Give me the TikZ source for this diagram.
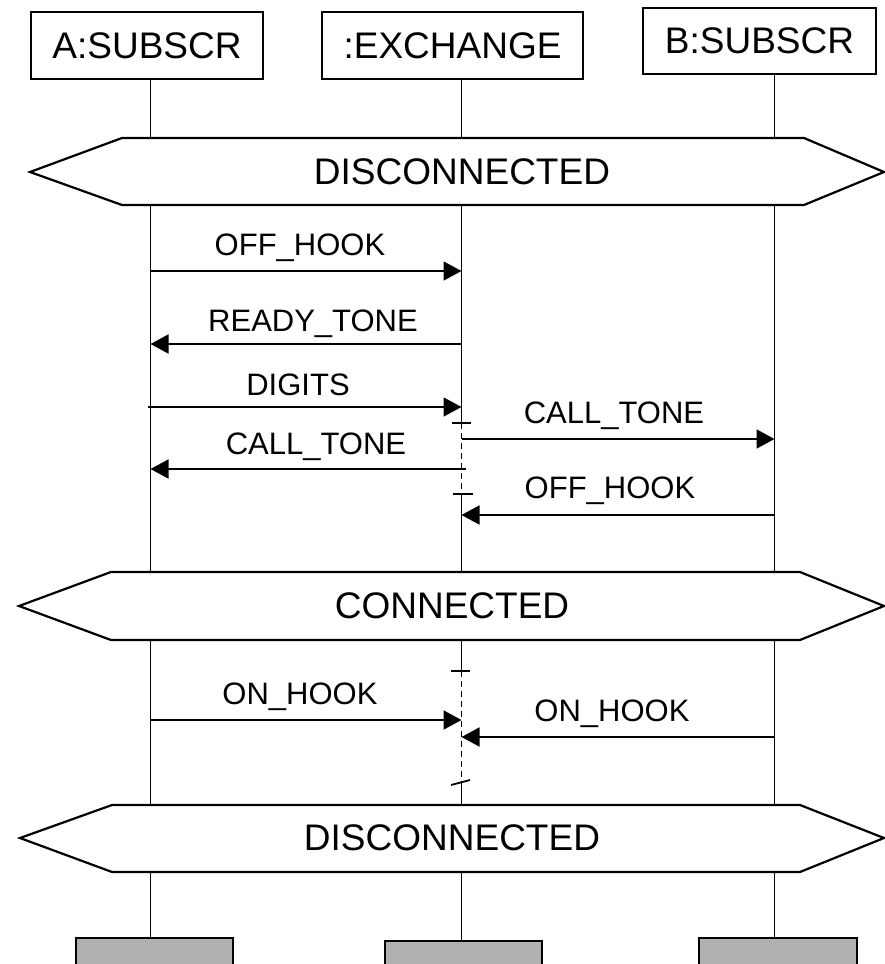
\documentclass[tikz,border=0pt]{standalone}
\usepackage{fontspec}
\setmainfont{Liberation Sans}
\usetikzlibrary{arrows.meta}
\definecolor{tailgray}{RGB}{176,176,176}
\begin{document}
\begin{tikzpicture}[x=1pt,y=-1pt,
  hdr/.style={draw, line width=1.6pt, inner sep=0pt, font=\fontsize{37}{40}\selectfont},
  big/.style={inner sep=0pt, font=\fontsize{37}{40}\selectfont},
  lbl/.style={inner sep=0pt, font=\fontsize{31}{34}\selectfont},
  life/.style={line width=1.8pt},
  dash life/.style={line width=1.8pt, dash pattern=on 6pt off 4pt},
  msg/.style={line width=1.8pt, -{Triangle[length=18pt,width=19pt]}},
  hexa/.style={draw, line width=2.2pt, fill=white, line join=miter},
  tailbox/.style={draw, line width=2.4pt, fill=tailgray},
]
\useasboundingbox (0,0) rectangle (885,964);

% lifeline x positions
\coordinate (xa) at (150.5,0);
\coordinate (xe) at (461.5,0);
\coordinate (xb) at (774.5,0);

% headers
\node[hdr, minimum width=232pt, minimum height=67pt] (ha) at (147,45.5) {A:SUBSCR};
\node[hdr, minimum width=261pt, minimum height=67pt] (he) at (452.5,45.5) {:EXCHANGE};
\node[hdr, minimum width=233pt, minimum height=66pt] (hb) at (759.5,41) {B:SUBSCR};

% condition levels
\coordinate (h1t) at (0,138); \coordinate (h1b) at (0,205);
\coordinate (h2t) at (0,572); \coordinate (h2b) at (0,640);
\coordinate (h3t) at (0,805); \coordinate (h3b) at (0,872);

% tail boxes
\node[tailbox, minimum width=157pt, minimum height=34pt, anchor=north west] (ta) at (75,937) {};
\node[tailbox, minimum width=157pt, minimum height=34pt, anchor=north west] (te) at (384,940) {};
\node[tailbox, minimum width=158pt, minimum height=34pt, anchor=north west] (tb) at (698,937) {};

% lifelines A
\draw[life] (ha.south -| xa) -- (h1t -| xa);
\draw[life] (h1b -| xa) -- (h2t -| xa);
\draw[life] (h2b -| xa) -- (h3t -| xa);
\draw[life] (h3b -| xa) -- (ta.north -| xa);
% lifelines B
\draw[life] (hb.south -| xb) -- (h1t -| xb);
\draw[life] (h1b -| xb) -- (h2t -| xb);
\draw[life] (h2b -| xb) -- (h3t -| xb);
\draw[life] (h3b -| xb) -- (tb.north -| xb);
% lifeline exchange with co-regions
\coordinate (c1) at (0,423); \coordinate (c2) at (0,494);
\coordinate (c3) at (0,671); \coordinate (c4) at (0,782);
\draw[life] (he.south -| xe) -- (h1t -| xe);
\draw[life] (h1b -| xe) -- (c1 -| xe);
\draw[dash life] (c1 -| xe) -- (c2 -| xe);
\draw[life] (c2 -| xe) -- (h2t -| xe);
\draw[life] (h2b -| xe) -- (c3 -| xe);
\draw[dash life] (c3 -| xe) -- (c4 -| xe);
\draw[life] (c4 -| xe) -- (h3t -| xe);
\draw[life] (h3b -| xe) -- (te.north -| xe);
% co-region ticks
\draw[life] (452,423) -- (471,423);
\draw[life] (453,494) -- (473,494);
\draw[life] (451,671) -- (470,671);
\draw[life] (451,785) -- (470,780);

% hexagons
\draw[hexa] (30,172) -- (122,138) -- (804,138) -- (884,172) -- (804,205) -- (122,205) -- cycle;
\node[big] (s1) at (462,172) {DISCONNECTED};
\draw[hexa] (19,606) -- (111,572) -- (800,572) -- (884,606) -- (800,640) -- (111,640) -- cycle;
\node[big] (s2) at (452,606) {CONNECTED};
\draw[hexa] (20,838) -- (112,805) -- (800,805) -- (884,838) -- (800,872) -- (112,872) -- cycle;
\node[big] (s3) at (452,838) {DISCONNECTED};

% messages
\coordinate (m1) at (0,271);
\draw[msg] (m1 -| xa) -- (m1 -| xe);
\node[lbl] (t1) at (300,248) {OFF\_HOOK};

\coordinate (m2) at (0,344);
\draw[msg] (m2 -| xe) -- (m2 -| xa);
\node[lbl] (t2) at (313,324) {READY\_TONE};

\coordinate (m3) at (0,407);
\coordinate (m3s) at (148,407);
\draw[msg] (m3s) -- (m3 -| xe);
\node[lbl] (t3) at (298,385) {DIGITS};

\coordinate (m4) at (0,439);
\draw[msg] (m4 -| xe) -- (m4 -| xb);
\node[lbl] (t4) at (614,416) {CALL\_TONE};

\coordinate (m5s) at (466,469);
\coordinate (m5) at (0,469);
\draw[msg] (m5s) -- (m5 -| xa);
\node[lbl] (t5) at (316,447) {CALL\_TONE};

\coordinate (m6) at (0,515);
\draw[msg] (m6 -| xb) -- (m6 -| xe);
\node[lbl] (t6) at (610,491) {OFF\_HOOK};

\coordinate (m7) at (0,720);
\draw[msg] (m7 -| xa) -- (m7 -| xe);
\node[lbl] (t7) at (300,697) {ON\_HOOK};

\coordinate (m8) at (0,737);
\draw[msg] (m8 -| xb) -- (m8 -| xe);
\node[lbl] (t8) at (612,714) {ON\_HOOK};
\end{tikzpicture}
\end{document}
